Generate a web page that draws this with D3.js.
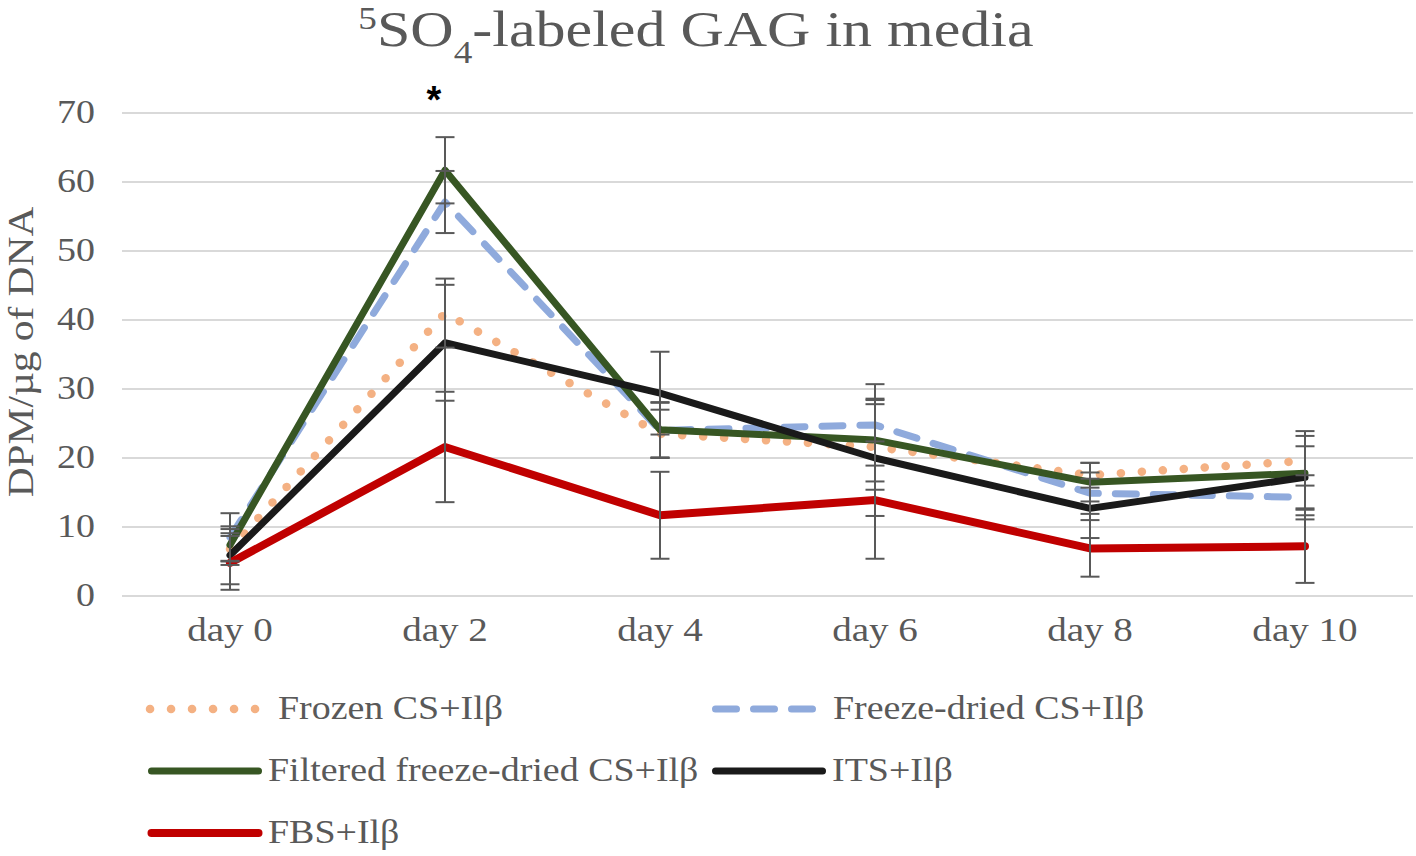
<!DOCTYPE html>
<html>
<head>
<meta charset="utf-8">
<script src="https://cdn.jsdelivr.net/npm/d3@7"></script>
<style>
  body { margin: 0; background: #fff; }
  text { font-family: "Liberation Serif", "Times New Roman", serif; fill: #595959; }
</style>
</head>
<body>
<div id="chart"></div>
<script>
var svgWidth = 1416;
var svgHeight = 856;

// data
var days = ["day 0", "day 2", "day 4", "day 6", "day 8", "day 10"];
var yTicks = [0, 10, 20, 30, 40, 50, 60, 70];

var frozen = [6.8, 41.0, 23.5, 21.6, 17.5, 19.6];
var frozenErr = [2.3, 5.0, 3.5, 6.2, 1.8, 3.6];
var freezeDried = [8.5, 57.1, 24.0, 24.8, 14.9, 14.3];
var freezeDriedErr = [3.5, 4.5, 4.0, 5.9, 3.0, 3.2];
var filtered = [7.4, 61.7, 24.1, 22.6, 16.5, 17.8];
var filteredErr = [2.3, 4.8, 4.0, 6.0, 2.8, 6.1];
var its = [5.9, 36.7, 29.4, 20.0, 12.7, 17.2];
var itsErr = [4.2, 8.4, 6.0, 8.4, 4.3, 4.5];
var fbs = [4.8, 21.6, 11.7, 13.9, 6.9, 7.2];
var fbsErr = [3.9, 8.0, 6.3, 8.5, 4.1, 5.3];

var seriesNames = ["Frozen CS+Ilβ", "Freeze-dried CS+Ilβ", "Filtered freeze-dried CS+Ilβ", "ITS+Ilβ", "FBS+Ilβ"];

var series = [
  {name: seriesNames[0], vals: frozen, err: frozenErr, color: "#f4b183", width: 8.5, dash: "0.1,20.9"},
  {name: seriesNames[1], vals: freezeDried, err: freezeDriedErr, color: "#8faadc", width: 7, dash: "21,17"},
  {name: seriesNames[2], vals: filtered, err: filteredErr, color: "#375623", width: 7, dash: null},
  {name: seriesNames[3], vals: its, err: itsErr, color: "#1a1a1a", width: 7, dash: null},
  {name: seriesNames[4], vals: fbs, err: fbsErr, color: "#c00000", width: 8, dash: null}
];

var stretchX = 1.15;

var svg = d3.select("#chart")
  .append("svg")
  .attr("width", svgWidth)
  .attr("height", svgHeight);

var x = d3.scalePoint()
  .domain(days)
  .range([122.5, 1412.5])
  .padding(0.5);

var y = d3.scaleLinear()
  .domain([0, 70])
  .range([596, 113]);

// text helper: real text, widened a bit like the source rendering
function addText(g, str, tx, ty, size, anchor, rot) {
  return g.append("text")
    .attr("transform", `translate(${tx}, ${ty}) rotate(${rot || 0}) scale(${stretchX}, 1)`)
    .attr("text-anchor", anchor)
    .style("font-size", size + "px")
    .text(str);
}

// gridlines
svg.append("g")
  .selectAll("line")
  .data(yTicks)
  .enter()
  .append("line")
  .attr("x1", 122)
  .attr("x2", 1413)
  .attr("y1", d => y(d))
  .attr("y2", d => y(d))
  .attr("stroke", "#d9d9d9")
  .attr("stroke-width", 2);

// y tick labels
var yLabels = svg.append("g");
yTicks.forEach(function(t) {
  addText(yLabels, t, 95, y(t) + 10, 33, "end");
});

// x labels
var xLabels = svg.append("g");
days.forEach(function(d) {
  addText(xLabels, d, x(d), 641, 34, "middle");
});

// y axis title
addText(svg, "DPM/µg of DNA", 33, 352, 36, "middle", -90);

// title
var title = svg.append("text")
  .attr("transform", "translate(696, 46) scale(1.2, 1)")
  .attr("text-anchor", "middle")
  .style("font-size", "50px");
title.append("tspan").attr("baseline-shift", "super").style("font-size", "31px").text("5");
title.append("tspan").text("SO");
title.append("tspan").attr("baseline-shift", "sub").style("font-size", "31px").text("4");
title.append("tspan").text("-labeled GAG in media");

// lines
var line = d3.line()
  .x((d, i) => x(days[i]))
  .y(d => y(d));

svg.append("g")
  .selectAll("path")
  .data(series)
  .enter()
  .append("path")
  .attr("d", d => line(d.vals))
  .attr("fill", "none")
  .attr("stroke", d => d.color)
  .attr("stroke-width", d => d.width)
  .attr("stroke-dasharray", d => d.dash)
  .attr("stroke-linecap", "round")
  .attr("stroke-linejoin", "round");

// error bars
var errData = [];
series.forEach(function(s) {
  s.vals.forEach(function(v, i) {
    errData.push({day: days[i], lo: v - s.err[i], hi: v + s.err[i]});
  });
});

var errG = svg.append("g")
  .attr("stroke", "#595959")
  .attr("stroke-width", 2);

errG.selectAll(".ebar")
  .data(errData)
  .enter()
  .append("line")
  .attr("class", "ebar")
  .attr("x1", d => x(d.day))
  .attr("x2", d => x(d.day))
  .attr("y1", d => y(d.lo))
  .attr("y2", d => y(d.hi));

errG.selectAll(".capHi")
  .data(errData)
  .enter()
  .append("line")
  .attr("class", "capHi")
  .attr("x1", d => x(d.day) - 9.5)
  .attr("x2", d => x(d.day) + 9.5)
  .attr("y1", d => y(d.hi))
  .attr("y2", d => y(d.hi));

errG.selectAll(".capLo")
  .data(errData)
  .enter()
  .append("line")
  .attr("class", "capLo")
  .attr("x1", d => x(d.day) - 9.5)
  .attr("x2", d => x(d.day) + 9.5)
  .attr("y1", d => y(d.lo))
  .attr("y2", d => y(d.lo));

// significance mark
svg.append("text")
  .attr("x", x("day 2") - 11)
  .attr("y", 113)
  .attr("text-anchor", "middle")
  .style("font-family", "'Liberation Sans', Arial, sans-serif")
  .style("font-weight", "bold")
  .style("font-size", "38px")
  .style("fill", "#000")
  .text("*");

// legend
var legendPos = [
  {sx: 150, ex: 255.5, tx: 278, row: 0},
  {sx: 715.5, ex: 812.5, tx: 833, row: 0},
  {sx: 151.5, ex: 258.5, tx: 268, row: 1},
  {sx: 715.5, ex: 822.5, tx: 832, row: 1},
  {sx: 151.5, ex: 258.5, tx: 268, row: 2}
];
var legend = svg.append("g");
series.forEach(function(s, i) {
  var p = legendPos[i];
  var ly = 709 + p.row * 62;
  legend.append("line")
    .attr("x1", p.sx)
    .attr("x2", p.ex)
    .attr("y1", ly)
    .attr("y2", ly)
    .attr("stroke", s.color)
    .attr("stroke-width", s.width)
    .attr("stroke-dasharray", s.dash)
    .attr("stroke-linecap", "round");
  addText(legend, s.name, p.tx, ly + 10, 33, "start");
});
</script>
</body>
</html>
